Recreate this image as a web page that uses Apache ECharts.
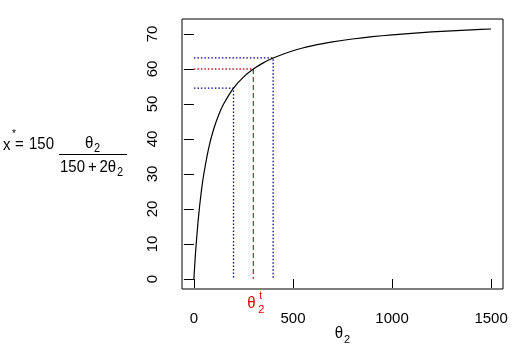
<!DOCTYPE html>
<html><head><meta charset="utf-8">
<script src="https://cdn.jsdelivr.net/npm/echarts@6/dist/echarts.min.js"></script>
<style>html,body{margin:0;padding:0;background:#fff}#c{width:513px;height:347px}</style>
</head><body><div id="c"></div>
<script>
// curve values
var theta = [0, 5, 10, 20, 30, 40, 50, 75, 100, 125, 150, 200, 250, 300, 350, 400, 500, 600, 700, 800, 900, 1000, 1100, 1200, 1300, 1400, 1500];
var xstar = [0, 4.69, 8.82, 15.79, 21.43, 26.09, 30.0, 37.5, 42.86, 46.88, 50.0, 54.55, 57.69, 60.0, 61.76, 63.16, 65.22, 66.67, 67.74, 68.57, 69.23, 69.77, 70.21, 70.59, 70.91, 71.19, 71.43];
// guide lines
var blueTheta = [200, 400];
var blueX = [54.55, 63.16];
var redTheta = 300;
var redX = 60;
var xTicks = [0, 500, 1000, 1500];
var yTicks = [0, 10, 20, 30, 40, 50, 60, 70];

var FONT = 'Liberation Sans, Arial, sans-serif';
var chart = echarts.init(document.getElementById('c'));
var navy = '#000080', dred = '#B22222';

var series = [{
  type: 'line', data: theta.map(function (t, i) { return [t, xstar[i]]; }),
  symbol: 'none', smooth: 0.2, lineStyle: { color: '#000', width: 1.2 }, silent: true, z: 5
}];
blueTheta.forEach(function (t, i) {
  series.push({ type: 'line', data: [[0, blueX[i]], [t, blueX[i]], [t, 0]], symbol: 'none',
    lineStyle: { color: navy, width: 1.3, type: [1.5, 2] }, silent: true });
});
series.push({ type: 'line', data: [[0, redX], [redTheta, redX]], symbol: 'none',
  lineStyle: { color: dred, width: 1.3, type: [1.5, 2] }, silent: true });
series.push({ type: 'line', data: [[redTheta, redX], [redTheta, 0]], symbol: 'none',
  lineStyle: { color: dred, width: 1.2, type: [5, 3] }, silent: true });

chart.setOption({
  animation: false,
  grid: { left: 182, top: 19, right: 10, bottom: 58, show: true, borderColor: '#000', borderWidth: 1, backgroundColor: 'transparent' },
  xAxis: { type: 'value', min: -60, max: 1560,
    axisLine: { show: false }, splitLine: { show: false },
    axisTick: { show: true, customValues: xTicks, length: 9, lineStyle: { color: '#000' } },
    axisLabel: { customValues: xTicks, margin: 22, fontSize: 15, fontFamily: FONT, color: '#000', formatter: function (v) { return String(v); } } },
  yAxis: { type: 'value', min: -2.857, max: 74.29,
    axisLine: { show: false }, splitLine: { show: false },
    axisTick: { show: true, customValues: yTicks, length: 10, lineStyle: { color: '#000' } },
    axisLabel: { customValues: yTicks, rotate: 90, margin: 22, fontSize: 15, fontFamily: FONT, color: '#000', formatter: function (v) { return String(v); } } },
  series: series
});

function txt(s, x, y, size, color, align, sy) {
  return { type: 'text', silent: true, x: x, y: y, scaleY: sy || 1,
    style: { text: s, x: 0, y: 0, font: size + 'px ' + FONT, fill: color || '#000', textAlign: align || 'left', textVerticalAlign: 'middle' } };
}
var p = chart.convertToPixel({ gridIndex: 0 }, [redTheta, 0]);
var S = 1.15;
var g = [
  txt('x', 3, 145, 15, null, null, S), txt('*', 12, 134, 10), txt('=', 15, 144, 15, null, null, S), txt('150', 29, 144, 15, null, null, S),
  txt('θ', 85, 143, 15, null, null, S), txt('2', 94, 149, 11, null, null, S),
  { type: 'line', silent: true, shape: { x1: 59, y1: 154.5, x2: 127, y2: 154.5 }, style: { stroke: '#000', lineWidth: 1 } },
  txt('150', 60, 167.5, 15, null, null, S), txt('+', 88, 167.5, 15, null, null, S),
  txt('2θ', 99.5, 167.5, 15, null, null, S), txt('2', 117, 173, 11, null, null, S),
  txt('θ', p[0] - 2, 303, 15, '#E00000', 'center', S), txt('2', p[0] + 5, 310, 11, '#E00000'), txt('t', p[0] + 6, 296, 10, '#E00000'),
  txt('θ', 339, 333, 15, '#000', 'center', S), txt('2', 344, 340, 11)
];
chart.setOption({ graphic: g });
</script></body></html>
